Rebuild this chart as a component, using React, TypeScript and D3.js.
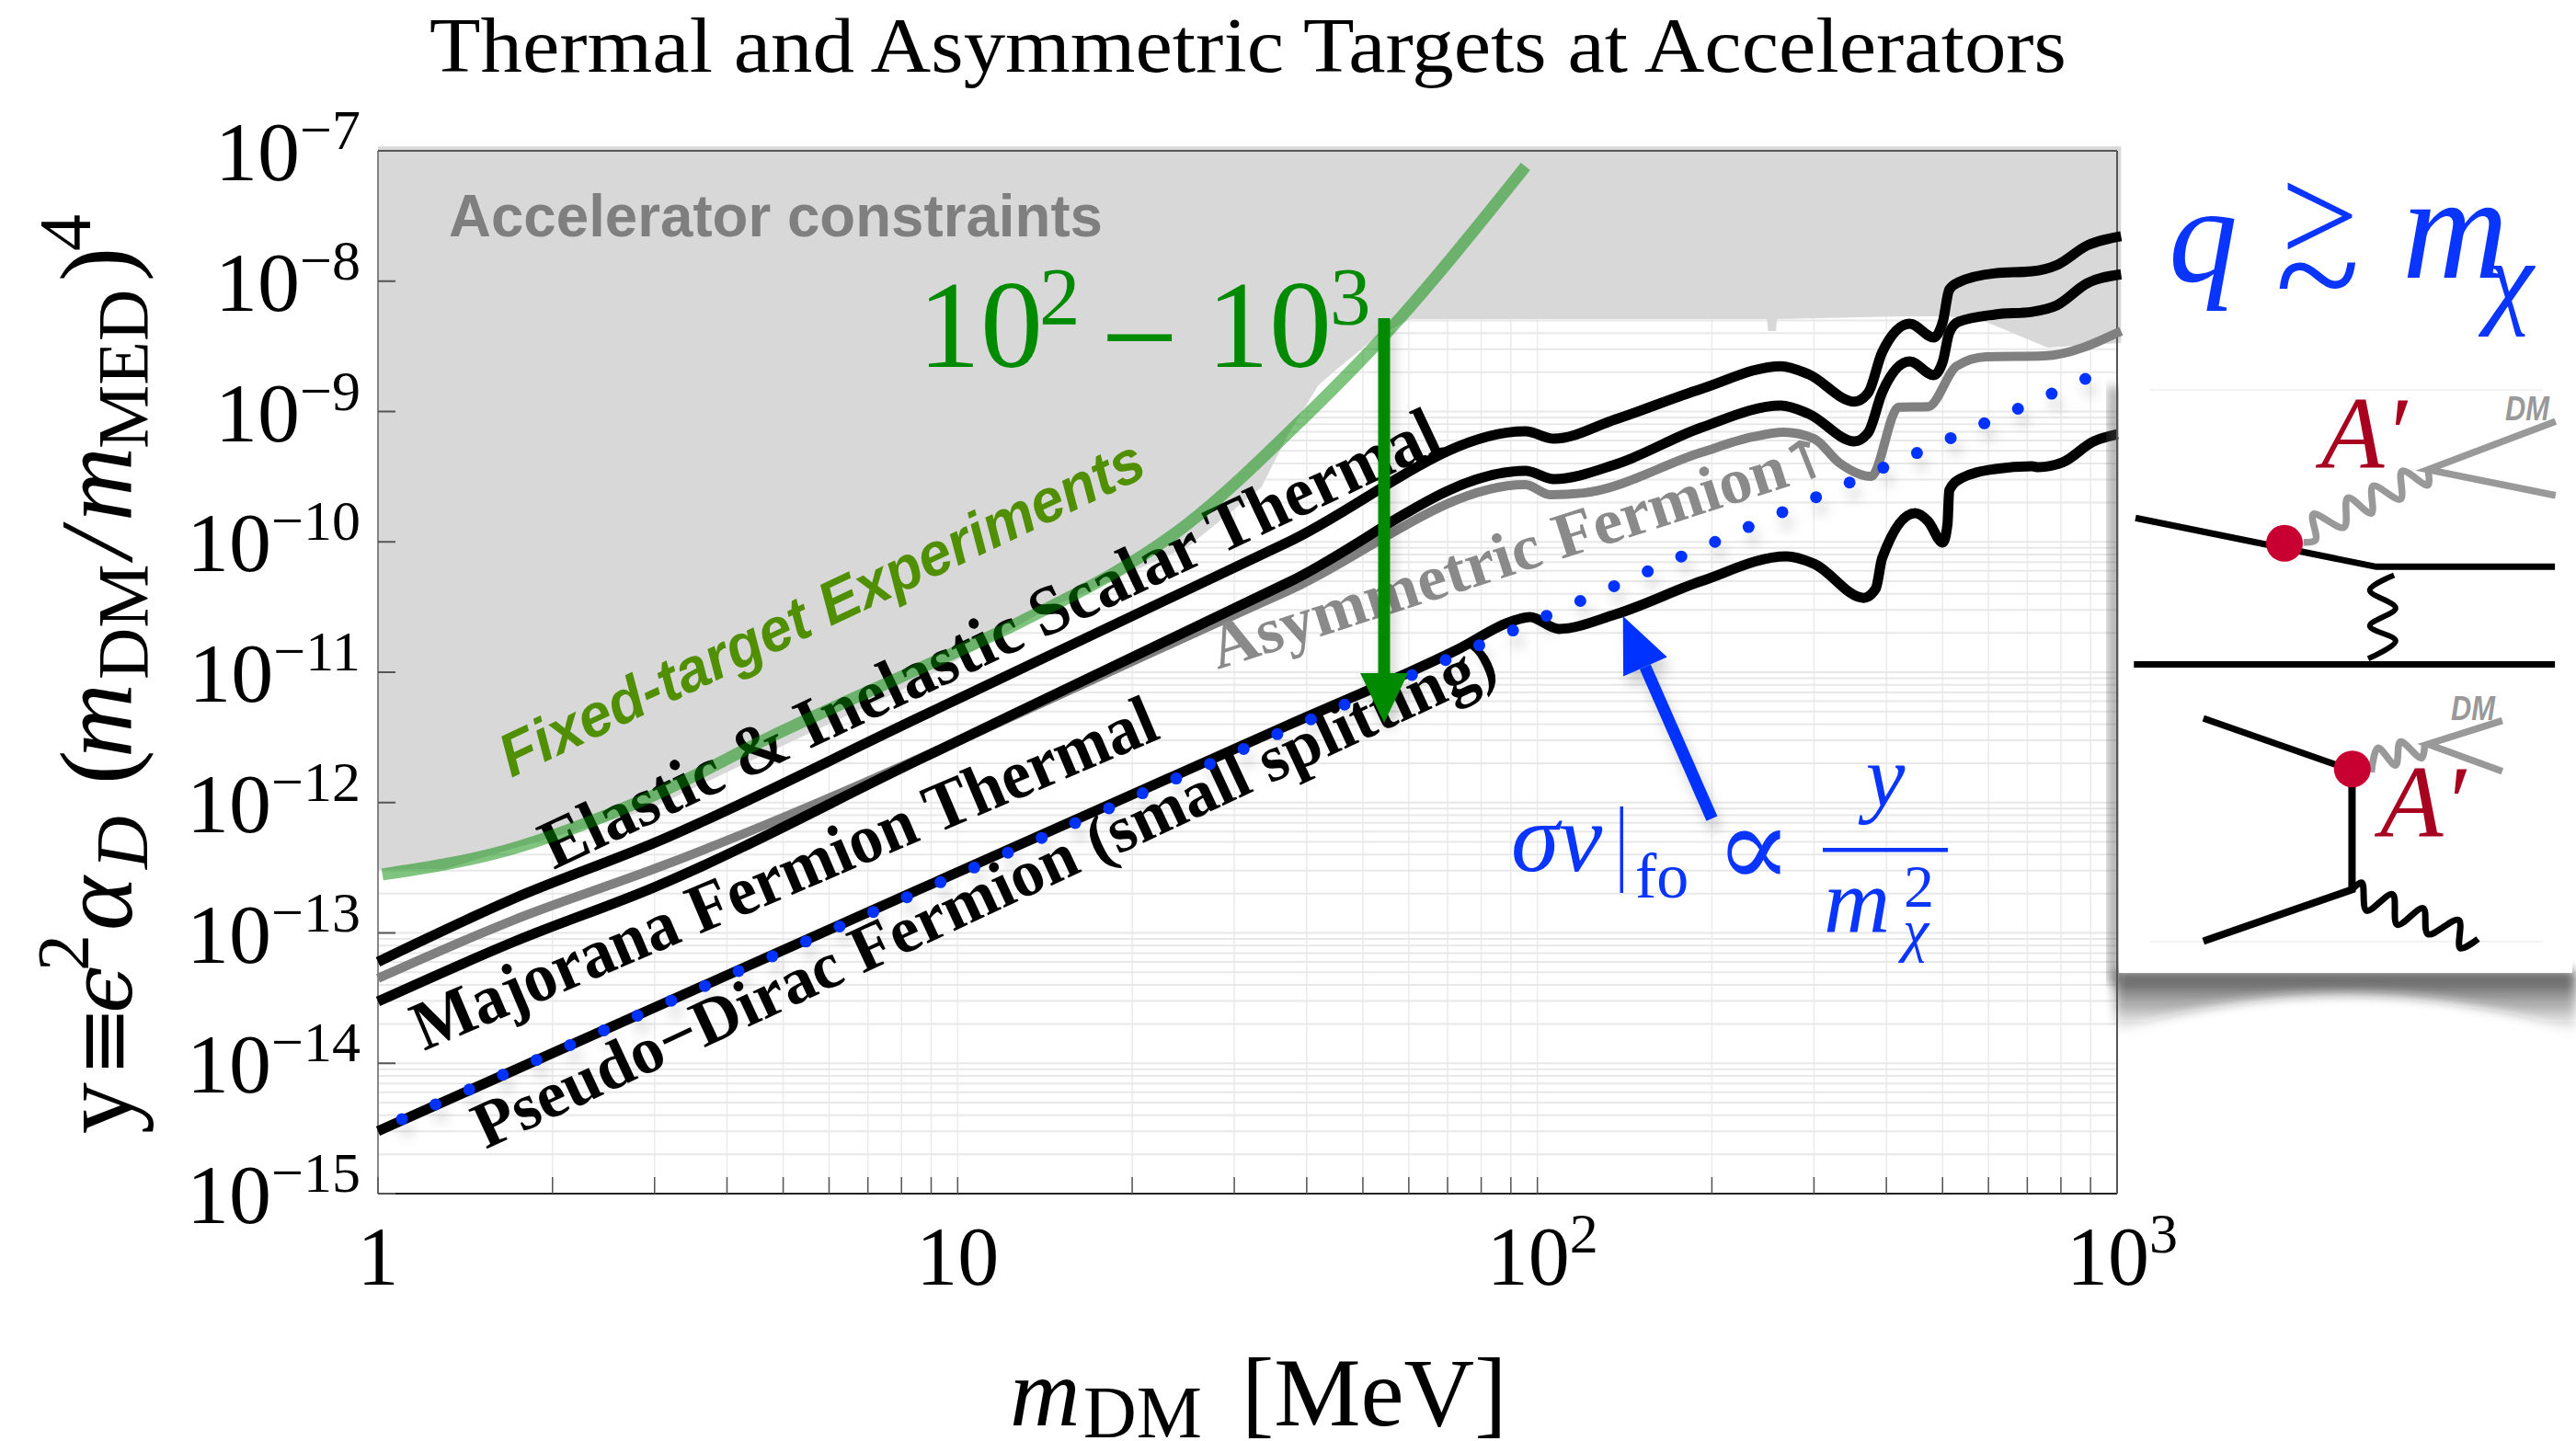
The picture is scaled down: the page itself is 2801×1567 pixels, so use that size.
import React from "react";
import * as d3 from "d3";

const WIDTH = 2801;
const HEIGHT = 1567;

// plot box, in page pixels
const LEFT = 411;
const RIGHT = 2302;
const TOP = 164;
const BOTTOM = 1298;

const SERIF = "'Liberation Serif', serif";
const SANS = "'Liberation Sans', sans-serif";

const yExponents = ["-7", "-8", "-9", "-10", "-11", "-12", "-13", "-14", "-15"];
const xTickLabels = [
  { value: 1, base: "1", exp: "" },
  { value: 10, base: "10", exp: "" },
  { value: 100, base: "10", exp: "2" },
  { value: 1000, base: "10", exp: "3" },
];

// Elastic & inelastic scalar thermal target
const scalarM = [1, 1.717, 2.99, 8.59, 37, 95.4, 106.8, 136.4, 191.6, 263.2, 293.7, 352.5, 372.4, 393.3, 438.9, 482.6, 500.5, 513.4, 532.7, 616.5, 713.3, 787.2, 888.4, 1016];
const scalarY = [6.0e-14, 1.84e-13, 4.88e-13, 4.51e-12, 9.88e-11, 7.05e-10, 6.19e-10, 8.71e-10, 1.49e-9, 2.23e-9, 1.93e-9, 1.19e-9, 1.4e-9, 2.85e-9, 4.72e-9, 3.7e-9, 4.88e-9, 8.61e-9, 9.8e-9, 1.15e-8, 1.19e-8, 1.33e-8, 1.88e-8, 2.21e-8];

// Majorana fermion thermal target
const majoranaM = [1, 1.717, 2.99, 8.59, 37, 95.4, 106.8, 136.4, 191.6, 263.2, 293.7, 352.5, 372.4, 393.3, 438.9, 482.6, 500.5, 513.4, 532.7, 616.5, 713.3, 787.2, 888.4, 1016];
const majoranaY = [2.98e-14, 8.57e-14, 2.23e-13, 2.14e-12, 4.83e-11, 3.51e-10, 3.03e-10, 3.93e-10, 7.53e-10, 1.11e-9, 9.6e-10, 5.9e-10, 6.93e-10, 1.4e-9, 2.42e-9, 1.9e-9, 2.42e-9, 4.01e-9, 4.88e-9, 5.55e-9, 5.82e-9, 6.53e-9, 9.64e-9, 1.13e-8];

// Asymmetric fermion
const asymM = [1, 1.717, 2.99, 37, 95.4, 105.2, 120, 191.6, 235.9, 266, 300.2, 331.3, 376.5, 420, 472, 528.6, 594, 748, 1016];
const asymY = [4.48e-14, 1.26e-13, 3.09e-13, 4.18e-11, 2.75e-10, 2.3e-10, 2.37e-10, 4.85e-10, 6.4e-10, 6.93e-10, 6.19e-10, 4.06e-10, 3.18e-10, 1.08e-9, 1.09e-9, 2.23e-9, 2.63e-9, 2.67e-9, 4.14e-9];

// Pseudo-Dirac fermion (small splitting)
const diracM = [1, 2.99, 8.59, 37, 73, 90.9, 97.1, 108.8, 136.4, 191.6, 269, 300.2, 365.6, 383.5, 393.3, 448.6, 472, 500.5, 509.9, 513.4, 538.5, 616.5, 713.3, 731.8, 804.7, 911, 1002];
const diracY = [3.02e-15, 2.66e-14, 2.16e-13, 3.9e-12, 1.5e-11, 2.48e-11, 2.65e-11, 2.15e-11, 2.78e-11, 4.99e-11, 7.74e-11, 6.79e-11, 3.72e-11, 4.39e-11, 7.5e-11, 1.66e-10, 1.44e-10, 9.88e-11, 1.37e-10, 2.49e-10, 3.08e-10, 3.62e-10, 3.8e-10, 3.74e-10, 4.06e-10, 5.9e-10, 6.71e-10];

// Fixed-target reach
const fixedM = [1.018, 1.66, 2.87, 4.99, 8.59, 12.75, 24.9, 39.3, 52.8, 95.4];
const fixedY = [2.81e-13, 4.28e-13, 1.05e-12, 3.54e-12, 1.07e-11, 2.4e-11, 1.37e-10, 8.71e-10, 3.3e-9, 7.59e-8];

// lower edge of the excluded region
const excludedM = [1, 1.306, 1.71, 2.915, 4.99, 8.53, 14.5, 24.9, 33.4, 37.2, 41.9, 44.8, 52.8, 60.4, 245.6, 249, 250, 258, 259, 428, 513, 594, 759, 1016];
const excludedY = [3.04e-13, 3.09e-13, 4.43e-13, 8.75e-13, 2.73e-12, 8.36e-12, 3.17e-11, 9.1e-11, 2.62e-10, 6.71e-10, 1.59e-9, 2.06e-9, 3.76e-9, 5.12e-9, 5.12e-9, 5.12e-9, 4.14e-9, 4.14e-9, 5.12e-9, 5.37e-9, 5.37e-9, 4.88e-9, 3.09e-9, 3.36e-9];

// freeze-out line, dotted
const dotM = [1.1, 1.257, 1.437, 1.642, 1.877, 2.145, 2.453, 2.804, 3.205, 3.664, 4.188, 4.789, 5.473, 6.256, 7.151, 8.175, 9.343, 10.68, 12.21, 13.96, 15.95, 18.24, 20.84, 23.82, 27.24, 31.14, 35.59, 40.68, 46.49, 53.14, 60.75, 69.45, 79.39, 90.76, 103.7, 118.6, 135.6, 155, 177.1, 202.5, 231.4, 264.6, 302.5, 345.6, 395.1, 451.6, 516.4, 590.2, 674.5, 771.2, 881.5];
const dotY = [3.73e-15, 4.84e-15, 6.29e-15, 8.17e-15, 1.06e-14, 1.38e-14, 1.79e-14, 2.32e-14, 3.02e-14, 3.92e-14, 5.1e-14, 6.62e-14, 8.6e-14, 1.12e-13, 1.45e-13, 1.88e-13, 2.45e-13, 3.18e-13, 4.13e-13, 5.36e-13, 6.97e-13, 9.05e-13, 1.18e-12, 1.53e-12, 1.98e-12, 2.58e-12, 3.35e-12, 4.35e-12, 5.64e-12, 7.33e-12, 9.52e-12, 1.24e-11, 1.61e-11, 2.09e-11, 2.71e-11, 3.52e-11, 4.57e-11, 5.94e-11, 7.72e-11, 1e-10, 1.3e-10, 1.69e-10, 2.2e-10, 2.85e-10, 3.71e-10, 4.81e-10, 6.25e-10, 8.12e-10, 1.05e-9, 1.37e-9, 1.78e-9];

// arrows, in data values
const greenArrowM = [54.4, 54.4];
const greenArrowY = [5.2e-9, 4.09e-12];
const blueArrowM = [200, 140.5];
const blueArrowY = [7.55e-13, 2.69e-11];

const xScale = d3.scaleLog().domain([1, 1000]).range([LEFT, RIGHT]);
const yScale = d3.scaleLog().domain([1e-15, 1e-7]).range([BOTTOM, TOP]);

const zip = (ms: number[], ys: number[]) => ms.map((m, i) => [xScale(m), yScale(ys[i])] as [number, number]);
const smooth = d3.line().curve(d3.curveMonotoneX);
const straight = d3.line();

// feynman diagrams in the inset, sketched in a zoomed frame
const ix = (v: number) => 2250 + v / 2.846;
const iy = (v: number) => 350 + v / 1.96;
const ipts = (pts: number[][]) => pts.map((p) => [ix(p[0]), iy(p[1])] as [number, number]);
const wavy = d3.line().curve(d3.curveCatmullRom.alpha(0.5));

const topWave = [[725, 470], [762, 465], [755, 410], [850, 438], [862, 375], [935, 408], [940, 350], [1025, 378], [1030, 318], [1110, 348], [1110, 315]];
const stemWave = [[1005, 540], [930, 572], [1010, 610], [930, 648], [1010, 680], [925, 718]];
const lowerGrayWave = [[935, 960], [955, 908], [1010, 945], [1025, 895], [1090, 930], [1100, 898]];
const lowerBlackWave = [[875, 1210], [905, 1195], [920, 1255], [1000, 1220], [1015, 1285], [1095, 1250], [1110, 1305], [1205, 1275], [1210, 1335], [1265, 1315]];

const Rot = ({ x, y, angle, children, ...rest }: any) => (
  <text x={x} y={y} transform={`rotate(${angle} ${x} ${y})`} {...rest}>
    {children}
  </text>
);

const Arrow = ({ ms, ys, color, width, headW, headL }: any) => {
  const [a, b] = zip(ms, ys);
  const ang = Math.atan2(b[1] - a[1], b[0] - a[0]);
  const nx = -Math.sin(ang);
  const ny = Math.cos(ang);
  const bx = b[0] - Math.cos(ang) * headL;
  const by = b[1] - Math.sin(ang) * headL;
  const head = [
    [b[0], b[1]],
    [bx + (nx * headW) / 2, by + (ny * headW) / 2],
    [bx - (nx * headW) / 2, by - (ny * headW) / 2],
  ] as [number, number][];
  return (
    <g filter="url(#soft)">
      <line x1={a[0]} y1={a[1]} x2={bx} y2={by} stroke={color} strokeWidth={width} />
      <path d={straight(head) + "Z"} fill={color} />
    </g>
  );
};

const App = () => {
  const xGrid = xScale.ticks();
  const yGrid = yScale.ticks();
  const yMajor = yExponents.map((e) => Math.pow(10, +e));
  const topY = 1.08e-7;
  const regionPts = [
    ...zip(excludedM, excludedY),
    [xScale(1016), yScale(topY)],
    [xScale(1), yScale(topY)],
  ] as [number, number][];

  return (
    <svg
      width={WIDTH}
      height={HEIGHT}
      style={{ position: "absolute", left: 0, top: 0, display: "block", background: "#fff" }}
      fontFamily={SERIF}
    >
      <defs>
        <filter id="soft" x="-50%" y="-50%" width="200%" height="200%">
          <feDropShadow dx="5" dy="12" stdDeviation="7" floodColor="#000" floodOpacity="0.18" />
        </filter>
        <filter id="blur" x="-10%" y="-20%" width="120%" height="140%">
          <feGaussianBlur stdDeviation="6" />
        </filter>
        <linearGradient id="fade" x1="0" y1="0" x2="0" y2="1">
          <stop offset="0" stopColor="#222" stopOpacity="0.8" />
          <stop offset="1" stopColor="#222" stopOpacity="0" />
        </linearGradient>
      </defs>

      <text x={1357} y={78} fontSize={84} textAnchor="middle" textLength={1780} lengthAdjust="spacingAndGlyphs">
        Thermal and Asymmetric Targets at Accelerators
      </text>

      {/* grid */}
      {xGrid.map((d, i) => (
        <line key={i} x1={xScale(d)} x2={xScale(d)} y1={TOP} y2={BOTTOM} stroke="#ebebeb" strokeWidth={1.5} />
      ))}
      {yGrid.map((d, i) => (
        <line key={i} x1={LEFT} x2={RIGHT} y1={yScale(d)} y2={yScale(d)} stroke="#e8e8e8" strokeWidth={2} />
      ))}

      {/* excluded region */}
      <path d={straight(regionPts) + "Z"} fill="#d8d8d8" />

      <text x={488} y={257} fontFamily={SANS} fontWeight="bold" fontSize={64} fill="#7f7f7f" textLength={711} lengthAdjust="spacingAndGlyphs">
        Accelerator constraints
      </text>

      {/* axes */}
      <line x1={LEFT} x2={LEFT} y1={TOP} y2={BOTTOM} stroke="#666" strokeWidth={1.5} />
      <line x1={LEFT} x2={RIGHT} y1={TOP} y2={TOP} stroke="#555" strokeWidth={2} />
      <line x1={RIGHT} x2={RIGHT} y1={TOP} y2={BOTTOM} stroke="#555" strokeWidth={2} />
      <line x1={LEFT} x2={RIGHT} y1={BOTTOM} y2={BOTTOM} stroke="#222" strokeWidth={2} />
      {xGrid.map((d, i) => (
        <line key={i} x1={xScale(d)} x2={xScale(d)} y1={BOTTOM - 18} y2={BOTTOM} stroke="#555" strokeWidth={1.5} />
      ))}
      {yMajor.map((d, i) => (
        <line key={i} x1={LEFT} x2={LEFT + 19} y1={yScale(d)} y2={yScale(d)} stroke="#555" strokeWidth={2} />
      ))}

      {/* y tick labels */}
      {yExponents.map((e, i) => {
        const y = yScale(yMajor[i]);
        return (
          <text key={e} x={392} y={y + 32} textAnchor="end" fontSize={92}>
            10
            <tspan fontSize={62} dy={-34}>
              {"\u2212" + e.slice(1)}
            </tspan>
          </text>
        );
      })}

      {/* x tick labels */}
      {xTickLabels.map((t) => {
        const x = xScale(t.value);
        return (
          <text key={t.value} x={t.exp ? x - 55 : x} y={1397} textAnchor={t.exp ? "start" : "middle"} fontSize={90}>
            {t.base}
            {t.exp && (
              <tspan fontSize={62} dy={-35}>
                {t.exp}
              </tspan>
            )}
          </text>
        );
      })}

      {/* curves */}
      <path d={smooth(zip(asymM, asymY))!} fill="none" stroke="#808080" strokeWidth={10} strokeLinejoin="miter" />
      <path d={smooth(zip(scalarM, scalarY))!} fill="none" stroke="#000" strokeWidth={11} />
      <path d={smooth(zip(majoranaM, majoranaY))!} fill="none" stroke="#000" strokeWidth={11} />
      <path d={smooth(zip(diracM, diracY))!} fill="none" stroke="#000" strokeWidth={11} />

      {/* rotated labels */}
      <Rot x={556} y={846} angle={-25.4} fontFamily={SANS} fontWeight="bold" fontStyle="italic" fontSize={66} fill="#4f8f00" textLength={768} lengthAdjust="spacingAndGlyphs">
        Fixed-target Experiments
      </Rot>
      <Rot x={602} y={946} angle={-25.3} fontWeight="bold" fontSize={76} textLength={1072} lengthAdjust="spacingAndGlyphs">
        Elastic &amp; Inelastic Scalar Thermal
      </Rot>
      <Rot x={461} y={1143} angle={-23} fontWeight="bold" fontSize={76} textLength={872} lengthAdjust="spacingAndGlyphs">
        Majorana Fermion  Thermal
      </Rot>
      <Rot x={528} y={1250} angle={-25} fontWeight="bold" fontSize={72} textLength={1218} lengthAdjust="spacingAndGlyphs">
        {"Pseudo\u2212Dirac Fermion (small splitting)"}
      </Rot>
      <Rot x={1324} y={728} angle={-17.8} fontWeight="bold" fontSize={70} fill="#8a8a8a" textLength={655} lengthAdjust="spacingAndGlyphs">
        Asymmetric Fermion
      </Rot>
      <path d="M1972,520 L1957,482 M1946,490 L1957,482 L1968,484" fill="none" stroke="#8a8a8a" strokeWidth={6} />

      {/* fixed target curve sits over the labels */}
      <path d={smooth(zip(fixedM, fixedY))!} fill="none" stroke="#008a00" strokeOpacity={0.5} strokeWidth={13} />

      {/* dotted line */}
      <g filter="url(#soft)">
        {dotM.map((m, i) => (
          <circle key={i} cx={xScale(m)} cy={yScale(dotY[i])} r={6.5} fill="#0033ff" />
        ))}
      </g>

      {/* 10^2 - 10^3 */}
      <g fill="#008a00">
        <text x={998} y={399} fontSize={136}>10</text>
        <text x={1130} y={352} fontSize={89}>2</text>
        <text x={1197} y={417} fontSize={150}>{"\u2212"}</text>
        <text x={1312} y={399} fontSize={136}>10</text>
        <text x={1446} y={352} fontSize={89}>3</text>
      </g>

      <Arrow ms={greenArrowM} ys={greenArrowY} color="#008a00" width={13} headW={52} headL={54} />
      <Arrow ms={blueArrowM} ys={blueArrowY} color="#0033ff" width={13} headW={52} headL={60} />

      {/* relic formula */}
      <g fill="#0a35ff" fontSize={96}>
        <text x={1643} y={947} fontStyle="italic" fontSize={106}>{"\u03C3v"}</text>
        <rect x={1761.5} y={877} width={3.5} height={94} />
        <text x={1778} y={976} fontSize={70}>fo</text>
        <text x={1865} y={964} fontFamily="'DejaVu Serif', serif" fontSize={124}>{"\u221D"}</text>
        <rect x={1982} y={922} width={136} height={4.5} />
        <text x={2050} y={877} fontStyle="italic" textAnchor="middle">y</text>
        <text x={1983} y={1013} fontStyle="italic" fontSize={100}>m</text>
        <text x={2070} y={986} fontSize={66}>2</text>
        <text x={2069} y={1033} fontSize={64} fontStyle="italic">{"\u03C7"}</text>
      </g>

      {/* q >~ m_chi */}
      <g fill="#0a35ff">
        <text x={2358} y={306} fontSize={150} fontStyle="italic">q</text>
        <text x={2480} y={285} fontSize={150}>{">"}</text>
        <text x={2474} y={356} fontSize={170}>~</text>
        <text x={2612} y={302} fontSize={160} fontStyle="italic">m</text>
        <text x={2704} y={342} fontSize={115} fontStyle="italic">{"\u03C7"}</text>
      </g>

      {/* axis titles */}
      <g fontSize={112}>
        <Rot x={143} y={1233} angle={-90}>y</Rot>
        <Rot x={143} y={1171} angle={-90} fontFamily="'DejaVu Serif', serif" fontSize={92}>{"\u2261"}</Rot>
        <Rot x={143} y={1102} angle={-90} fontStyle="italic" fontFamily="'DejaVu Serif', serif" fontSize={92}>{"\u03F5"}</Rot>
        <Rot x={96} y={1056} angle={-90} fontSize={80}>2</Rot>
        <Rot x={143} y={1012} angle={-90} fontStyle="italic">{"\u03B1"}</Rot>
        <Rot x={160} y={945} angle={-90} fontStyle="italic" fontSize={80}>D</Rot>
        <Rot x={143} y={853} angle={-90}>(</Rot>
        <Rot x={143} y={824} angle={-90} fontStyle="italic">m</Rot>
        <Rot x={160} y={739} angle={-90} fontSize={78}>DM</Rot>
        <Rot x={143} y={607} angle={-90} fontStyle="italic">/</Rot>
        <Rot x={143} y={567} angle={-90} fontStyle="italic">m</Rot>
        <Rot x={160} y={488} angle={-90} fontSize={78}>MED</Rot>
        <Rot x={143} y={306} angle={-90}>)</Rot>
        <Rot x={98} y={273} angle={-90} fontSize={80}>4</Rot>
      </g>
      <g fontSize={106}>
        <text x={1098} y={1550} fontStyle="italic">m</text>
        <text x={1178} y={1563} fontSize={80}>DM</text>
        <text x={1350} y={1550}>[MeV]</text>
      </g>

      {/* inset panel */}
      <path d="M2300,1056 L2801,1056 L2801,1122 Q2550,1040 2300,1122 Z" fill="url(#fade)" filter="url(#blur)" />
      <rect x={2292} y={420} width={14} height={650} fill="#555" opacity={0.5} filter="url(#blur)" />
      <rect x={2304} y={393} width={493} height={665} fill="#fff" />
      <line x1={RIGHT} x2={RIGHT} y1={393} y2={BOTTOM} stroke="#555" strokeWidth={2} />
      <line x1={2338} x2={2765} y1={424} y2={424} stroke="#efefef" strokeWidth={1.5} />
      <line x1={2338} x2={2765} y1={1024} y2={1024} stroke="#efefef" strokeWidth={1.5} />

      <g fill="none" stroke="#000" strokeWidth={7}>
        <path d={straight(ipts([[205, 418], [950, 522], [1503, 522]]))!} />
        <path d={straight(ipts([[200, 730], [1503, 730]]))!} />
        <path d={straight(ipts([[415, 845], [830, 945]]))!} />
        <path d={straight(ipts([[875, 990], [875, 1210], [415, 1320]]))!} strokeWidth={8} />
        <path d={wavy(ipts(stemWave))!} strokeWidth={6} />
        <path d={wavy(ipts(lowerBlackWave))!} strokeWidth={7} />
      </g>
      <g fill="none" stroke="#999" strokeWidth={7.5}>
        <path d={wavy(ipts(topWave))!} />
        <path d={straight(ipts([[1505, 212], [1110, 315], [1505, 370]]))!} />
        <path d={wavy(ipts(lowerGrayWave))!} />
        <path d={straight(ipts([[1340, 850], [1110, 900], [1340, 958]]))!} />
      </g>
      <circle cx={ix(666)} cy={iy(472)} r={20} fill="#c80032" />
      <circle cx={ix(876)} cy={iy(953)} r={20} fill="#c80032" />
      <g fill="#a8001f" fontStyle="italic" fontSize={112}>
        <text x={2524} y={509}>{"A\u2032"}</text>
        <text x={2588} y={910}>{"A\u2032"}</text>
      </g>
      <g fill="#999" fontFamily={SANS} fontWeight="bold" fontStyle="italic" fontSize={36}>
        <text x={2724} y={457} textLength={48} lengthAdjust="spacingAndGlyphs">DM</text>
        <text x={2665} y={783} textLength={48} lengthAdjust="spacingAndGlyphs">DM</text>
      </g>
    </svg>
  );
};

export default App;
